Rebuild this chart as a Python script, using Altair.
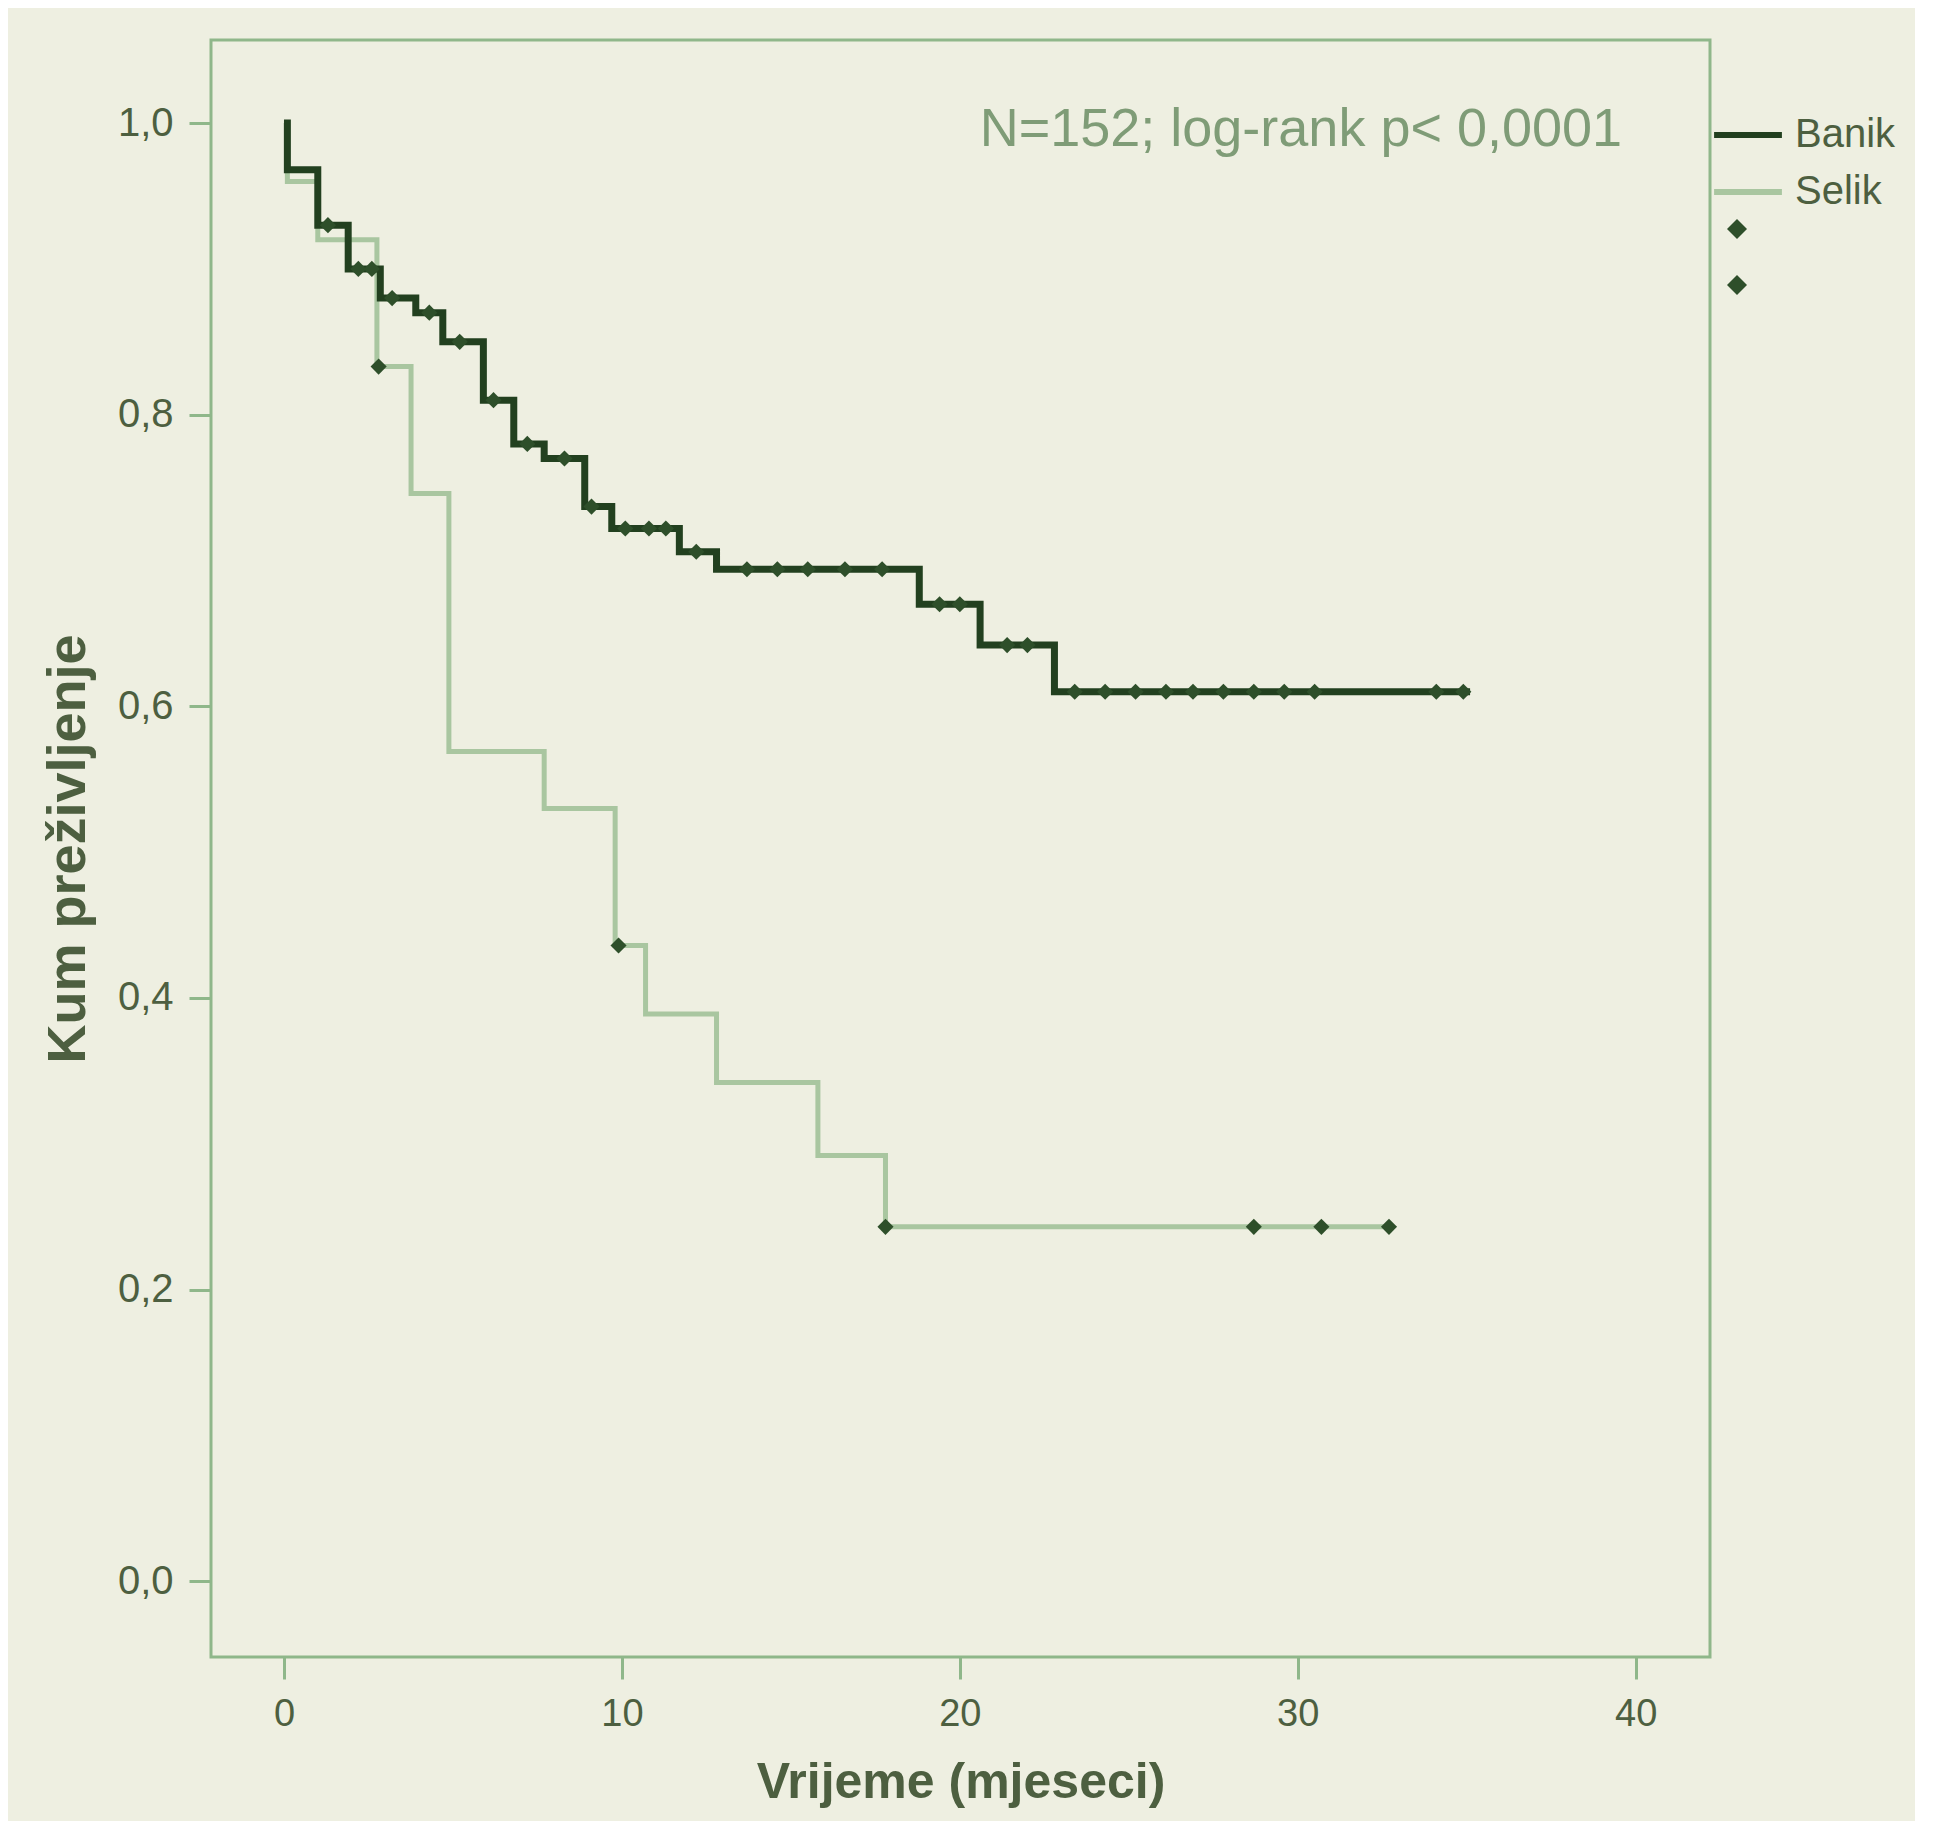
import altair as alt
import pandas as pd
import numpy as np

# ---- data ----
group_names = ["Banik", "Selik"]
censor_names = ["Banik-cenzurirano", "Selik-cenzurirano"]

dark_times = [0, 0.1, 1.0, 1.9, 2.85, 3.9, 4.7, 5.9, 6.8, 7.7, 8.9, 9.7, 11.7, 12.8, 18.8, 20.6, 22.8, 35.1]
dark_surv = [1.0, 0.968, 0.93, 0.90, 0.88, 0.87, 0.85, 0.81, 0.78, 0.77, 0.737, 0.722, 0.706, 0.694, 0.67, 0.642, 0.61, 0.61]

light_times = [0, 0.1, 1.0, 2.75, 3.76, 4.88, 7.7, 9.8, 10.7, 12.8, 15.8, 17.8, 32.7]
light_surv = [1.0, 0.96, 0.92, 0.833, 0.746, 0.569, 0.53, 0.436, 0.389, 0.342, 0.292, 0.243, 0.243]

dark_censor_times = [1.3, 2.2, 2.6, 3.2, 4.3, 5.2, 6.2, 7.2, 8.3, 9.1, 10.1, 10.8, 11.3, 12.2,
                     13.7, 14.6, 15.5, 16.6, 17.7, 19.4, 20.0, 21.4, 22.0, 23.4, 24.3, 25.2,
                     26.1, 26.9, 27.8, 28.7, 29.6, 30.5, 34.1, 34.9]
light_censor_times = [2.8, 9.9, 17.8, 28.7, 30.7, 32.7]

x_ticks = [0, 10, 20, 30, 40]
y_ticks = [0.0, 0.2, 0.4, 0.6, 0.8, 1.0]
annotation = "N=152; log-rank p< 0,0001"
x_title = "Vrijeme (mjeseci)"
y_title = "Kum preživljenje"

# ---- styling ----
BG = "#eeefe1"
FRAME = "#8fb78a"
DARK = "#22401f"
LIGHT = "#a9c6a0"
MARK = "#2e4f2a"
TEXT = "#4d5f40"
FONT = "Liberation Sans"


def step_value(times, surv, t):
    idx = int(np.searchsorted(np.array(times), t, side="right")) - 1
    return surv[idx]


lines_df = pd.concat([
    pd.DataFrame({"group": group_names[0], "t": dark_times, "s": dark_surv}),
    pd.DataFrame({"group": group_names[1], "t": light_times, "s": light_surv}),
], ignore_index=True)

pts_df = pd.concat([
    pd.DataFrame({"cg": censor_names[0], "t": dark_censor_times,
                  "s": [step_value(dark_times, dark_surv, t) for t in dark_censor_times]}),
    pd.DataFrame({"cg": censor_names[1], "t": light_censor_times,
                  "s": [step_value(light_times, light_surv, t) for t in light_censor_times]}),
], ignore_index=True)

ann_df = pd.DataFrame({"t": [39.6], "s": [0.995], "label": [annotation]})

xscale = alt.Scale(domain=[-2.16, 42.2], nice=False, zero=False)
yscale = alt.Scale(domain=[-0.052, 1.057], nice=False, zero=False)

xaxis = alt.Axis(values=x_ticks, title=x_title, grid=False, domain=False,
                 tickSize=22, tickWidth=3, tickColor=FRAME, labelFontSize=38,
                 labelColor=TEXT, labelPadding=16, labelFont=FONT,
                 titleFont=FONT, titleFontSize=50, titleFontWeight="bold",
                 titleColor=TEXT, titlePadding=24)
yaxis = alt.Axis(values=y_ticks, title=y_title, grid=False, domain=False,
                 tickSize=22, tickWidth=3, tickColor=FRAME, labelFontSize=40,
                 labelColor=TEXT, labelPadding=16, labelFont=FONT,
                 labelExpr="replace(format(datum.value, '.1f'), '.', ',')",
                 titleFont=FONT, titleFontSize=54, titleFontWeight="bold",
                 titleColor=TEXT, titlePadding=22)

color_enc = alt.Color("group:N",
                      scale=alt.Scale(domain=group_names, range=[DARK, LIGHT]),
                      legend=alt.Legend(title=None, orient="none", legendX=1500, legendY=58,
                                        symbolType="stroke", symbolSize=4600,
                                        symbolStrokeWidth=6, labelFontSize=40,
                                        labelColor=TEXT, labelFont=FONT, rowPadding=0,
                                        labelOffset=10))

base = alt.Chart(lines_df)
light_line = base.transform_filter(alt.datum.group == group_names[1]).mark_line(
    interpolate="step-after", strokeWidth=5).encode(
    x=alt.X("t:Q", scale=xscale, axis=xaxis),
    y=alt.Y("s:Q", scale=yscale, axis=yaxis),
    color=color_enc)
dark_line = base.transform_filter(alt.datum.group == group_names[0]).mark_line(
    interpolate="step-after", strokeWidth=7).encode(
    x=alt.X("t:Q", scale=xscale),
    y=alt.Y("s:Q", scale=yscale),
    color=color_enc)

points = alt.Chart(pts_df).mark_point(filled=True, size=260, opacity=1).encode(
    x=alt.X("t:Q", scale=xscale),
    y=alt.Y("s:Q", scale=yscale),
    shape=alt.Shape("cg:N", scale=alt.Scale(domain=censor_names, range=["diamond", "diamond"]),
                    legend=alt.Legend(title=None, orient="none", legendX=1515, legendY=178,
                                      labelExpr="''", symbolSize=400, symbolFillColor=MARK,
                                      symbolStrokeColor=MARK, rowPadding=30)),
    color=alt.value(MARK))

text = alt.Chart(ann_df).mark_text(align="right", baseline="middle", fontSize=54,
                                   font=FONT, color="#7f9c77").encode(
    x=alt.X("t:Q", scale=xscale),
    y=alt.Y("s:Q", scale=yscale),
    text="label:N")

chart = alt.layer(light_line, dark_line, points, text).properties(
    width=1499, height=1617,
    autosize=alt.AutoSizeParams(type="none"),
    padding={"left": 203, "top": 32, "right": 205, "bottom": 164},
    background=BG,
).configure_view(stroke=FRAME, strokeWidth=3, fill=BG)

chart.save("out.html", embed_options={"renderer": "svg", "actions": False})
